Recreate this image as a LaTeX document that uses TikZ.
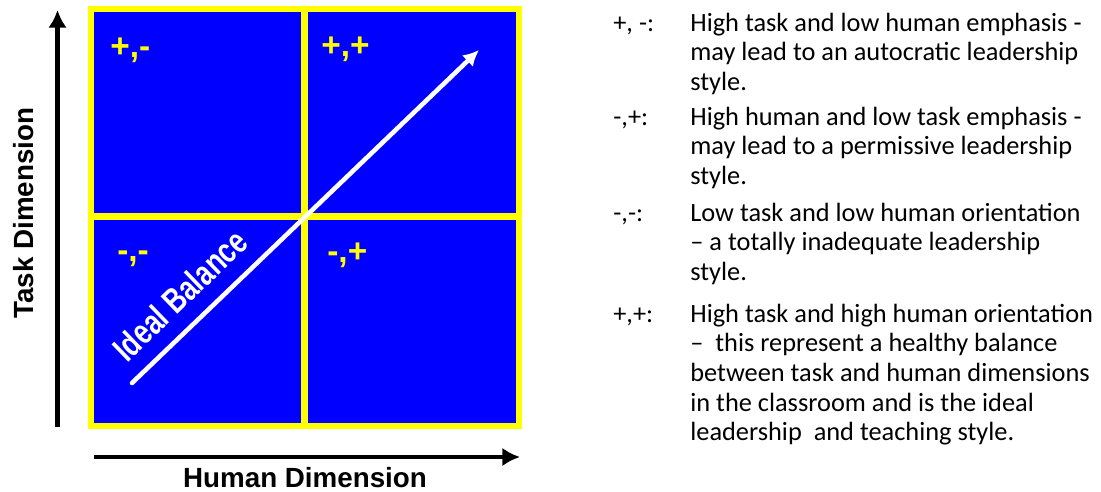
\documentclass[tikz,border=0pt]{standalone}
\usepackage{fontspec}
\setsansfont{Liberation Sans}
\newfontfamily\carlito{Carlito}
\usetikzlibrary{arrows.meta}
\definecolor{quadblue}{RGB}{0,0,255}
\definecolor{quadyellow}{RGB}{255,255,0}
\newcommand{\explines}[1]{\begin{tabular}[t]{@{}l@{}}#1\end{tabular}}

\begin{document}
\begin{tikzpicture}[
    x=0.02cm, y=-0.02cm,
    axis/.style={line width=2.8pt, -{Latex[length=10pt,width=10.5pt]}},
    axislabel/.style={font=\sffamily\bfseries\fontsize{15.8}{18}\selectfont, inner sep=0pt},
    quad/.style={anchor=base west, inner sep=0pt, text=quadyellow,
                 font=\sffamily\bfseries\fontsize{19}{21}\selectfont},
    key/.style={anchor=base west, inner sep=0pt, font=\carlito\fontsize{15}{16.9}\selectfont},
    expl/.style={key}
  ]
  \useasboundingbox (0,0) rectangle (1101,491);

  % the four quadrants
  \coordinate (nw)  at (91,9);
  \coordinate (se)  at (518.7,426);
  \coordinate (mid) at (304.5,216.5);
  \filldraw[fill=quadblue, draw=quadyellow, line width=3.4pt] (nw) rectangle (se);
  \draw[quadyellow, line width=3.7pt] (nw -| mid) -- (se -| mid);
  \draw[quadyellow, line width=3.7pt] (nw |- mid) -- (se |- mid);

  \node[quad] (q1) at (110,57)  {+,-};
  \node[quad] (q2) at (321,56)  {+,+};
  \node[quad] (q3) at (117,261) {-,-};
  \node[quad] (q4) at (327,262) {-,+};

  % ideal balance arrow
  \coordinate (ib0) at (132,383);
  \coordinate (ib1) at (479,50);
  \draw[white, line width=2.6pt, line cap=round, -{Latex[length=9pt,width=9pt]}] (ib0) -- (ib1);
  \node[white, rotate=44, inner sep=0pt, font=\sffamily\bfseries\fontsize{20}{22}\selectfont]
    (ideal) at (180,295) {\scalebox{0.76}[1]{Ideal Balance}};

  % axes
  \coordinate (ty0) at (57.5,427);
  \coordinate (ty1) at (57.5,10);
  \coordinate (hx0) at (94,457);
  \coordinate (hx1) at (520,457);
  \draw[axis] (ty0) -- (ty1);
  \draw[axis] (hx0) -- (hx1);
  \node[axislabel, rotate=90, anchor=base] (tdim) at (33,213)  {Task Dimension};
  \node[axislabel, anchor=base]            (hdim) at (305,487) {Human Dimension};

  % legend
  \node[key] (k1) at (613,31)  {+, -:};
  \node[key] (k2) at (613,125) {-,+:};
  \node[key] (k3) at (613,221) {-,-:};
  \node[key] (k4) at (613,322) {+,+:};

  \node[expl] (e1) at (690,31)  {\explines{High task and low human emphasis -\\
    may lead to an autocratic leadership\\ style.}};
  \node[expl] (e2) at (690,125) {\explines{High human and low task emphasis -\\
    may lead to a permissive leadership\\ style.}};
  \node[expl] (e3) at (690,221) {\explines{Low task and low human orientation\\
    – a totally inadequate leadership\\ style.}};
  \node[expl] (e4) at (690,322) {\explines{High task and high human orientation\\
    –\ \ this represent a healthy balance\\ between task and human dimensions\\
    in the classroom and is the ideal\\ leadership\ \ and teaching style.}};
\end{tikzpicture}
\end{document}
